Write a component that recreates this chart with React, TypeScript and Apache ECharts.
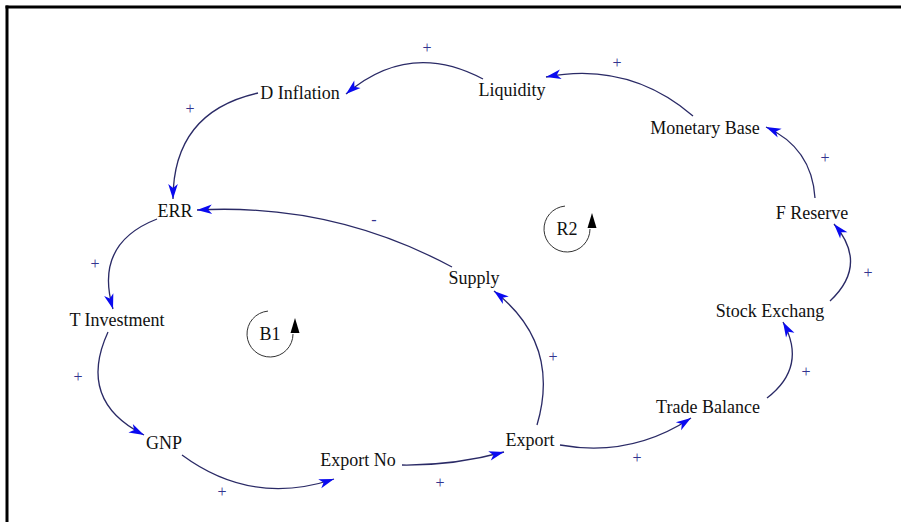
import React, { useEffect, useRef } from 'react';
import * as echarts from 'echarts';

// Variables of the causal loop diagram and their positions
const nodeNames = ['D Inflation', 'Liquidity', 'Monetary Base', 'F Reserve', 'Stock Exchang', 'Trade Balance', 'Export', 'Export No', 'GNP', 'T Investment', 'ERR', 'Supply'];
const nodeX = [300, 512, 705, 812, 770, 708, 530, 358, 164, 117, 175, 474];
const nodeY = [93, 90, 128, 213, 311, 407, 440, 460, 443, 320, 211, 278];

// Causal links (from -> to), their anchor points, curvature and polarity
const linkFrom = ['Liquidity', 'Monetary Base', 'F Reserve', 'Stock Exchang', 'Trade Balance', 'Export', 'Export No', 'GNP', 'T Investment', 'ERR', 'D Inflation', 'Supply', 'Export'];
const linkTo = ['D Inflation', 'Liquidity', 'Monetary Base', 'F Reserve', 'Stock Exchang', 'Trade Balance', 'Export', 'Export No', 'GNP', 'T Investment', 'ERR', 'ERR', 'Supply'];
const linkStartX = [483, 693, 815, 830, 767, 560, 402, 182, 108, 157, 258, 452, 537];
const linkStartY = [79, 116, 198, 301, 398, 445, 465, 455, 332, 219, 93, 267, 425];
const linkEndX = [346, 546, 766, 834, 783, 691, 504, 334, 144, 113, 173, 197, 494];
const linkEndY = [94, 77, 127, 224, 322, 418, 452, 479, 435, 309, 199, 210, 291];
const linkCurveness = [-0.34, -0.24, -0.3, -0.48, -0.43, -0.2, -0.07, -0.26, -0.48, -0.46, -0.4, -0.14, -0.34];
const linkSign = ['+', '+', '+', '+', '+', '+', '+', '+', '+', '+', '+', '-', '+'];
const signX = [427, 617, 825, 868, 806, 637, 440, 222, 78, 95, 190, 374, 553];
const signY = [47, 62, 157, 272, 371, 457, 482, 491, 376, 263, 108, 219, 356];

// Loop identifiers
const loopNames = ['B1', 'R2'];
const loopX = [270, 567];
const loopY = [334, 229];

const FONT = '"Liberation Serif", "Times New Roman", serif';

export default function App() {
  const ref = useRef<HTMLDivElement>(null);

  useEffect(() => {
    if (!ref.current) return;
    const chart = echarts.init(ref.current, undefined, { renderer: 'svg' });

    const linkData = linkStartX.map((x, i) => ({
      name: linkFrom[i] + ' → ' + linkTo[i],
      value: [x, linkStartY[i], linkEndX[i], linkEndY[i], linkCurveness[i]],
    }));

    const textSeries = (name: string, texts: string[], xs: number[], ys: number[], size: number, color: string) => ({
      type: 'custom',
      name,
      silent: true,
      coordinateSystem: 'cartesian2d',
      data: texts.map((t, i) => ({ name: t, value: [xs[i], ys[i]] })),
      renderItem: (params: any, api: any) => {
        const p = api.coord([api.value(0), api.value(1)]);
        return {
          type: 'text',
          style: {
            text: texts[params.dataIndex],
            x: p[0],
            y: p[1],
            align: 'center',
            verticalAlign: 'middle',
            font: size + 'px ' + FONT,
            fill: color,
          },
        };
      },
      z: 3,
    });

    chart.setOption({
      animation: false,
      backgroundColor: '#ffffff',
      grid: { left: 0, right: 0, top: 0, bottom: 0 },
      xAxis: { type: 'value', min: 0, max: 901, show: false },
      yAxis: { type: 'value', min: 0, max: 522, inverse: true, show: false },
      graphic: [
        { type: 'line', shape: { x1: 5.5, y1: 7, x2: 901, y2: 7 }, style: { stroke: '#000', lineWidth: 3 }, silent: true },
        { type: 'line', shape: { x1: 7, y1: 5.5, x2: 7, y2: 522 }, style: { stroke: '#000', lineWidth: 3 }, silent: true },
      ],
      series: [
        {
          type: 'custom',
          name: 'links',
          silent: true,
          coordinateSystem: 'cartesian2d',
          data: linkData,
          renderItem: (params: any, api: any) => {
            const p1 = api.coord([api.value(0), api.value(1)]);
            const p2 = api.coord([api.value(2), api.value(3)]);
            const c = api.value(4);
            const dx = p2[0] - p1[0];
            const dy = p2[1] - p1[1];
            const cx = (p1[0] + p2[0]) / 2 + dy * c;
            const cy = (p1[1] + p2[1]) / 2 - dx * c;
            let ux = p2[0] - cx;
            let uy = p2[1] - cy;
            const len = Math.hypot(ux, uy) || 1;
            ux /= len;
            uy /= len;
            const L = 15;
            const W = 4.8;
            const N = 11;
            const bx = p2[0] - ux * L;
            const by = p2[1] - uy * L;
            const nx = -uy;
            const ny = ux;
            return {
              type: 'group',
              children: [
                {
                  type: 'bezierCurve',
                  shape: { x1: p1[0], y1: p1[1], x2: p2[0], y2: p2[1], cpx1: cx, cpy1: cy },
                  style: { stroke: '#2a2a66', lineWidth: 1.3, fill: null },
                },
                {
                  type: 'polygon',
                  shape: {
                    points: [
                      [p2[0], p2[1]],
                      [bx + nx * W, by + ny * W],
                      [p2[0] - ux * N, p2[1] - uy * N],
                      [bx - nx * W, by - ny * W],
                    ],
                  },
                  style: { fill: '#0a0af0' },
                },
              ],
            };
          },
          z: 1,
        },
        textSeries('variables', nodeNames, nodeX, nodeY, 18, '#111111'),
        textSeries('polarity', linkSign, signX, signY, 16, '#33338f'),
        {
          type: 'custom',
          name: 'loops',
          silent: true,
          coordinateSystem: 'cartesian2d',
          data: loopNames.map((n, i) => ({ name: n, value: [loopX[i], loopY[i]] })),
          renderItem: (params: any, api: any) => {
            const p = api.coord([api.value(0), api.value(1)]);
            const name = loopNames[params.dataIndex];
            return {
              type: 'group',
              children: [
                {
                  type: 'arc',
                  shape: { cx: p[0], cy: p[1], r: 23, startAngle: 0, endAngle: (265 * Math.PI) / 180, clockwise: true },
                  style: { stroke: '#333', lineWidth: 1, fill: null },
                },
                {
                  type: 'polygon',
                  shape: { points: [[p[0] + 25, p[1] - 16], [p[0] + 20.5, p[1] - 1], [p[0] + 29.5, p[1] - 1]] },
                  style: { fill: '#000' },
                },
                {
                  type: 'text',
                  style: { text: name, x: p[0], y: p[1], align: 'center', verticalAlign: 'middle', font: '18px ' + FONT, fill: '#111111' },
                },
              ],
            };
          },
          z: 2,
        },
      ],
    });

    return () => chart.dispose();
  }, []);

  return (
    <div
      ref={ref}
      style={{ position: 'fixed', left: 0, top: 0, width: 901, height: 522, background: '#fff' }}
    />
  );
}
